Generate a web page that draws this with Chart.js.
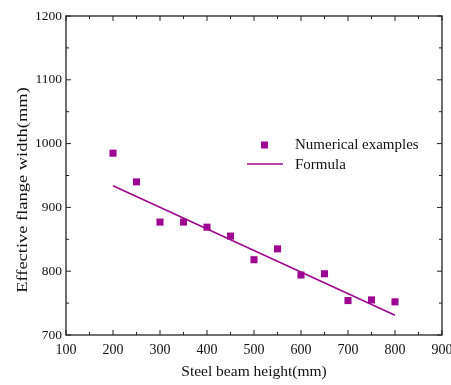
<!DOCTYPE html>
<html>
<head>
<meta charset="utf-8">
<script src="https://cdn.jsdelivr.net/npm/chart.js@4"></script>
<style>
  html, body { margin: 0; padding: 0; background: #fff; }
  #wrap { width: 451px; height: 385px; }
</style>
</head>
<body>
<div id="wrap"><canvas id="chart"></canvas></div>
<script>
// Données
const beamHeights = [200, 250, 300, 350, 400, 450, 500, 550, 600, 650, 700, 750, 800];
const flangeWidths = [985, 940, 877, 877, 869, 855, 818, 835, 794, 796, 754, 755, 752];
const formulaHeights = [200, 800];
const formulaWidths = [934, 731];
const xTicks = [100, 200, 300, 400, 500, 600, 700, 800, 900];
const yTicks = [700, 800, 900, 1000, 1100, 1200];
const yTitle = 'Effective flange width(mm)';

const purple = '#9c0690';
const serif = '"Liberation Serif", "Times New Roman", serif';

// Cadre, graduations internes, titre vertical et légende
const framePlugin = {
    id: 'frame',
    afterDraw(chart) {
        const ctx = chart.ctx;
        const area = chart.chartArea;
        const xs = chart.scales.x;
        const ys = chart.scales.y;
        ctx.save();
        ctx.strokeStyle = '#222';
        ctx.lineWidth = 1.3;
        ctx.strokeRect(area.left, area.top, area.right - area.left, area.bottom - area.top);

        ctx.lineWidth = 1;
        for (let v = xTicks[0]; v <= xTicks[xTicks.length - 1]; v += 50) {
            const px = xs.getPixelForValue(v);
            const len = v % 100 === 0 ? 5 : 3;
            ctx.beginPath();
            ctx.moveTo(px, area.bottom); ctx.lineTo(px, area.bottom - len);
            ctx.moveTo(px, area.top); ctx.lineTo(px, area.top + len);
            ctx.stroke();
        }
        for (let v = yTicks[0]; v <= yTicks[yTicks.length - 1]; v += 50) {
            const py = ys.getPixelForValue(v);
            const len = v % 100 === 0 ? 5 : 3;
            ctx.beginPath();
            ctx.moveTo(area.left, py); ctx.lineTo(area.left + len, py);
            ctx.moveTo(area.right, py); ctx.lineTo(area.right - len, py);
            ctx.stroke();
        }

        // Titre de l'axe Y (un peu étiré comme sur l'original)
        ctx.save();
        ctx.translate(23, 190);
        ctx.rotate(-Math.PI / 2);
        ctx.scale(1.23, 1);
        ctx.fillStyle = '#111';
        ctx.font = '15px ' + serif;
        ctx.textAlign = 'center';
        ctx.textBaseline = 'middle';
        ctx.fillText(yTitle, 0, 0);
        ctx.restore();

        // Légende
        ctx.fillStyle = purple;
        ctx.fillRect(261, 141.5, 7, 7);
        ctx.strokeStyle = purple;
        ctx.lineWidth = 1.5;
        ctx.beginPath();
        ctx.moveTo(247, 164); ctx.lineTo(283, 164);
        ctx.stroke();
        ctx.fillStyle = '#111';
        ctx.font = '15px ' + serif;
        ctx.textBaseline = 'middle';
        ctx.fillText(chart.data.datasets[0].label, 295, 145);
        ctx.fillText(chart.data.datasets[1].label, 295, 165);
        ctx.restore();
    }
};

new Chart(document.getElementById('chart'), {
    type: 'scatter',
    data: {
        datasets: [{
            label: 'Numerical examples',
            data: beamHeights.map((h, i) => ({ x: h, y: flangeWidths[i] })),
            pointStyle: 'rect',
            pointRadius: 5,
            backgroundColor: purple,
            borderWidth: 0
        }, {
            label: 'Formula',
            type: 'line',
            data: formulaHeights.map((h, i) => ({ x: h, y: formulaWidths[i] })),
            borderColor: purple,
            borderWidth: 1.5,
            pointRadius: 0,
            fill: false
        }]
    },
    plugins: [framePlugin],
    options: {
        responsive: true,
        maintainAspectRatio: false,
        animation: false,
        layout: { padding: { left: 0, right: 9, top: 16, bottom: 0 } },
        plugins: {
            legend: { display: false },
            tooltip: { enabled: false }
        },
        scales: {
            x: {
                type: 'linear',
                min: 100,
                max: 900,
                afterBuildTicks: s => { s.ticks = xTicks.map(v => ({ value: v })); },
                afterFit: s => { s.height = 50; s.paddingLeft = 0; s.paddingRight = 0; },
                grid: { display: false, drawTicks: false },
                border: { display: false },
                ticks: {
                    color: '#111', padding: 7, font: { family: serif, size: 14 },
                    callback: v => String(v)
                },
                title: {
                    display: true,
                    text: 'Steel beam height(mm)',
                    color: '#111',
                    font: { family: serif, size: 15.5 },
                    padding: { top: 4, bottom: 4 }
                }
            },
            y: {
                min: 700,
                max: 1200,
                afterBuildTicks: s => { s.ticks = yTicks.map(v => ({ value: v })); },
                afterFit: s => { s.width = 66; s.paddingTop = 0; s.paddingBottom = 0; },
                grid: { display: false, drawTicks: false },
                border: { display: false },
                ticks: {
                    color: '#111', padding: 4, font: { family: serif, size: 13.5 },
                    callback: v => String(v)
                }
            }
        }
    }
});
</script>
</body>
</html>
